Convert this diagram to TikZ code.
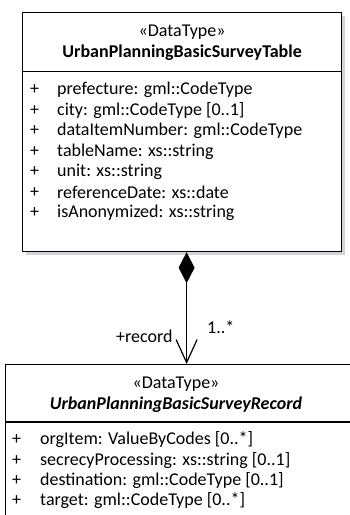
\documentclass[tikz,border=0pt]{standalone}
\usepackage{fontspec}
\setmainfont{Carlito}
\usetikzlibrary{arrows.meta, positioning}
\tikzset{
    classbox/.style={rectangle, draw=black, line width=1.2pt, fill=white, anchor=north west, inner sep=0pt},
    stereo/.style={inner sep=0pt, font=\fontsize{18}{21}\selectfont},
    classname/.style={inner sep=0pt, font=\fontsize{18}{21}\selectfont\bfseries},
    plus/.style={anchor=west, inner sep=0pt, font=\fontsize{18}{21}\selectfont},
    attr/.style={anchor=west, inner sep=0pt, font=\fontsize{18}{21}\selectfont},
    role/.style={inner sep=0pt, anchor=west, font=\fontsize{18}{21}\selectfont},
    composition/.style={line width=1.2pt, {Diamond[length=31pt,width=16pt]}-{Straight Barb[length=23pt,width=21pt]}}
}
\definecolor{shadowgray}{RGB}{208,211,218}

\begin{document}
\begin{tikzpicture}[x=1pt, y=-1pt]
    \useasboundingbox (0,0) rectangle (350,515);
    \clip (0,0) rectangle (350,515);
    % table class
    \fill[shadowgray] (26,16) rectangle (345,255);
    \node (tbl) [classbox, minimum width=319pt, minimum height=239pt] at (22,12) {};
    \draw[line width=1.2pt] (tbl.west |- 0,71.5) -- (tbl.east |- 0,71.5);
    \node (tblstereo) [stereo] at (tbl.north |- 0,32) {«DataType»};
    \node (tblname) [classname] at (tbl.north |- 0,53) {UrbanPlanningBasicSurveyTable};
    \foreach \attrtext [count=\i] in {{prefecture: gml::CodeType}, {city: gml::CodeType [0..1]}, {dataItemNumber: gml::CodeType}, {tableName: xs::string}, {unit: xs::string}, {referenceDate: xs::date}, {isAnonymized: xs::string}} {
        \node (tblplus\i) [plus] at (30,69.5+20.5*\i) {+};
        \node (tblattr\i) [attr] at (57,69.5+20.5*\i) {\attrtext};
    }
    % record class
    \node (rec) [classbox, minimum width=362pt, minimum height=200pt] at (5,364) {};
    \draw[line width=1.2pt] (rec.west |- 0,422) -- (rec.east |- 0,422);
    \node (recstereo) [stereo] at (176,384) {«DataType»};
    \node (recname) [classname] at (176,405) {\itshape UrbanPlanningBasicSurveyRecord};
    \foreach \attrtext [count=\i] in {{orgItem: ValueByCodes [0..*]}, {secrecyProcessing: xs::string [0..1]}, {destination: gml::CodeType [0..1]}, {target: gml::CodeType [0..*]}} {
        \node (recplus\i) [plus] at (12,419.7+20.3*\i) {+};
        \node (recattr\i) [attr] at (40,419.7+20.3*\i) {\attrtext};
    }
    % association
    \draw[composition] (rec.north |- tbl.south) -- (rec.north);
    \node (rolename) [role] at (116,336) {+record};
    \node (mult) [role] at (207,327) {1..*};
\end{tikzpicture}
\end{document}
